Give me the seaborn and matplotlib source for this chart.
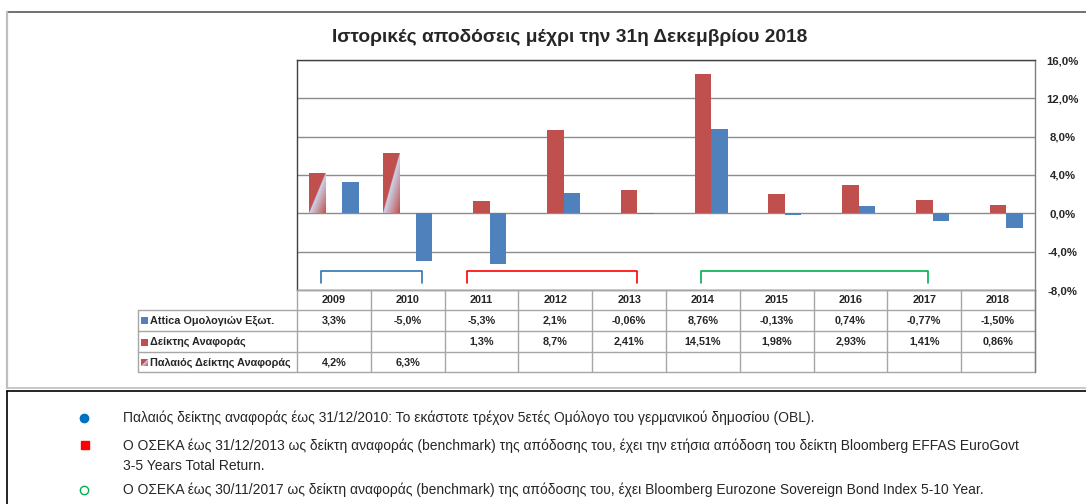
import numpy as np
import pandas as pd
import matplotlib
matplotlib.use("Agg")
import matplotlib.pyplot as plt
import seaborn as sns

# ---------------- data ----------------
years = ["2009", "2010", "2011", "2012", "2013", "2014", "2015", "2016", "2017", "2018"]
attica = [3.3, -5.0, -5.3, 2.1, -0.06, 8.76, -0.13, 0.74, -0.77, -1.50]
benchmark = [np.nan, np.nan, 1.3, 8.7, 2.41, 14.51, 1.98, 2.93, 1.41, 0.86]
old_benchmark = [4.2, 6.3, np.nan, np.nan, np.nan, np.nan, np.nan, np.nan, np.nan, np.nan]

attica_labels = ["3,3%", "-5,0%", "-5,3%", "2,1%", "-0,06%", "8,76%", "-0,13%", "0,74%", "-0,77%", "-1,50%"]
benchmark_labels = ["", "", "1,3%", "8,7%", "2,41%", "14,51%", "1,98%", "2,93%", "1,41%", "0,86%"]
old_labels = ["4,2%", "6,3%", "", "", "", "", "", "", "", ""]

name_attica = "Attica Ομολογιών Εξωτ."
name_bench = "Δείκτης Αναφοράς"
name_old = "Παλαιός Δείκτης Αναφοράς"

y_ticks = [-8, -4, 0, 4, 8, 12, 16]
y_tick_labels = ["-8,0%", "-4,0%", "0,0%", "4,0%", "8,0%", "12,0%", "16,0%"]

title = "Ιστορικές αποδόσεις μέχρι την 31η Δεκεμβρίου 2018"

# bracket spans (category index units) and colours
bracket_spans = [(-0.17, 1.2), (1.81, 4.11), (4.97, 8.05)]
bracket_colors = ["#2E75B6", "#FF0000", "#00B050"]

note_1 = "Παλαιός δείκτης αναφοράς έως 31/12/2010: Το εκάστοτε τρέχον 5ετές Ομόλογο του γερμανικού δημοσίου (OBL)."
note_2a = "Ο ΟΣΕΚΑ έως 31/12/2013 ως δείκτη αναφοράς (benchmark) της απόδοσης του, έχει την ετήσια απόδοση του δείκτη Bloomberg EFFAS EuroGovt"
note_2b = "3-5 Years Total Return."
note_3 = "Ο ΟΣΕΚΑ έως 30/11/2017 ως δείκτη αναφοράς (benchmark) της απόδοσης του, έχει Bloomberg Eurozone Sovereign Bond Index 5-10 Year."

# ---------------- style ----------------
RED = "#C0504D"
BLUE = "#4F81BD"
LIGHT = np.array([0.80, 0.84, 0.93])
sns.set_style("white")
plt.rcParams["font.family"] = ["Liberation Sans", "DejaVu Sans"]

W, H = 1086, 504
fig = plt.figure(figsize=(W / 100, H / 100), dpi=100)


def fx(px):
    return px / W


def fy(py):
    return 1 - py / H


def gradient(n=120):
    u = np.linspace(0, 1, n)
    U, V = np.meshgrid(u, u)  # V: 0 bottom -> 1 top (origin lower)
    red = np.array(matplotlib.colors.to_rgb(RED))
    t = np.clip(U - V, 0, 1)
    img = np.empty((n, n, 3))
    mask = U > V
    s = t[..., None]
    img[:] = red
    mix = LIGHT * (1 - s) + red * s
    img[mask] = mix[mask]
    return img


GRAD = gradient()

# ---------------- main axes ----------------
PL, PR, PT, PB = 297, 1035, 60, 290
ax = fig.add_axes([fx(PL), fy(PB), fx(PR) - fx(PL), fy(PT) - fy(PB)])

df = pd.DataFrame({
    "year": years * 3,
    "value": old_benchmark + benchmark + attica,
    "series": [name_old] * 10 + [name_bench] * 10 + [name_attica] * 10,
})
hue_order = [name_old, name_bench, name_attica]
palette = {name_old: RED, name_bench: RED, name_attica: BLUE}

sns.barplot(data=df, x="year", y="value", hue="series", hue_order=hue_order, order=years,
            palette=palette, saturation=1, width=0.67, gap=0, dodge=True,
            legend=False, ax=ax, edgecolor="none", zorder=3)

# gradient fill for old benchmark bars
for patch in ax.containers[0]:
    bb = patch.get_bbox()
    if not np.isfinite(bb.y1 - bb.y0) or bb.height == 0:
        continue
    im = ax.imshow(GRAD, extent=(bb.x0, bb.x1, bb.y0, bb.y1), origin="lower",
                   aspect="auto", zorder=4, interpolation="bilinear")
    im.set_clip_path(patch)

# brackets
for (a, b), c in zip(bracket_spans, bracket_colors):
    ax.plot([a, a, b, b], [-7.3, -6.05, -6.05, -7.3], color=c, lw=1.2,
            solid_joinstyle="round", zorder=5, clip_on=False)

ax.set_xlim(-0.5, len(years) - 0.5)
ax.set_ylim(-8, 16)
ax.set_xlabel("")
ax.set_ylabel("")
ax.set_xticks(range(len(years)))
ax.set_xticklabels([])
ax.tick_params(axis="x", length=0)
ax.yaxis.tick_right()
ax.set_yticks(y_ticks)
ax.set_yticklabels(y_tick_labels, fontsize=8.2, fontweight="bold", ha="center")
ax.tick_params(axis="y", length=0, pad=20)
ax.set_axisbelow(True)
ax.yaxis.grid(True, color="#8c8c8c", lw=1)
for side, sp in ax.spines.items():
    sp.set_visible(True)
    sp.set_linewidth(1)
    sp.set_color("#404040" if side in ("left", "top") else "#7f7f7f")

# ---------------- overlay (table, frame, notes) ----------------
ov = fig.add_axes([0, 0, 1, 1], zorder=10)
ov.axis("off")

cw = (PR - PL) / len(years)
col_edges = [PL + i * cw for i in range(len(years) + 1)]
col_cent = [PL + (i + 0.5) * cw for i in range(len(years))]
row_y = [290, 309.5, 331, 352, 372]
LBL_X = 138
GRID = "#a6a6a6"

ov.plot([PL, PR], [row_y[0], row_y[0]], color=GRID, lw=1)
for yy in row_y[1:]:
    ov.plot([LBL_X, PR], [yy, yy], color=GRID, lw=1)
for xx in col_edges:
    ov.plot([xx, xx], [row_y[0], row_y[-1]], color=GRID, lw=1)
ov.plot([LBL_X, LBL_X], [row_y[1], row_y[-1]], color=GRID, lw=1)
ov.plot([PR, PR], [row_y[0], row_y[-1]], color="#7f7f7f", lw=1)

tfs = 7.8
for xc, yr in zip(col_cent, years):
    ov.text(xc, (row_y[0] + row_y[1]) / 2 + 0.5, yr, ha="center", va="center",
            fontsize=tfs, fontweight="bold")
rows = [(name_attica, attica_labels), (name_bench, benchmark_labels), (name_old, old_labels)]
for r, (name, labs) in enumerate(rows):
    yc = (row_y[r + 1] + row_y[r + 2]) / 2 + 0.5
    for xc, lab in zip(col_cent, labs):
        if lab:
            ov.text(xc, yc, lab, ha="center", va="center", fontsize=tfs, fontweight="bold")
    ov.text(150, yc, name, ha="left", va="center", fontsize=tfs, fontweight="bold")
    x0, x1, y0, y1 = 141, 148, yc + 3.5, yc - 3.5
    if r == 0:
        ov.fill_between([x0, x1], y0, y1, color=BLUE, lw=0)
    elif r == 1:
        ov.fill_between([x0, x1], y0, y1, color=RED, lw=0)
    else:
        ov.imshow(GRAD, extent=(x0, x1, y0, y1), origin="lower", aspect="auto",
                  interpolation="bilinear")

# title
ov.text(570, 37, title, ha="center", va="center", fontsize=13.8, fontweight="bold")

# frame
ov.plot([7, W], [12, 12], color="#595959", lw=1.2)
ov.plot([7, 7], [12, 388], color="#bfbfbf", lw=1.6)
ov.plot([7, W], [388, 388], color="#bfbfbf", lw=1.2)
ov.plot([7, W], [390.5, 390.5], color="#000000", lw=1.2)
ov.plot([7, 7], [390.5, H], color="#000000", lw=1.2)

# notes
ov.plot([84], [418], marker="o", ms=6, color="#0070C0", mec="#0070C0")
ov.plot([85], [445], marker="s", ms=5.5, color="#FF0000", mec="#FF0000")
ov.plot([84], [490], marker="o", ms=6, mfc="none", mec="#00B050", mew=1)
nfs = 10.0
ov.text(123, 418, note_1, ha="left", va="center", fontsize=nfs)
ov.text(123, 446, note_2a, ha="left", va="center", fontsize=nfs)
ov.text(123, 466, note_2b, ha="left", va="center", fontsize=nfs)
ov.text(123, 490, note_3, ha="left", va="center", fontsize=nfs)

ov.set_xlim(0, W)
ov.set_ylim(H, 0)

fig.savefig("out.png", dpi=100)
